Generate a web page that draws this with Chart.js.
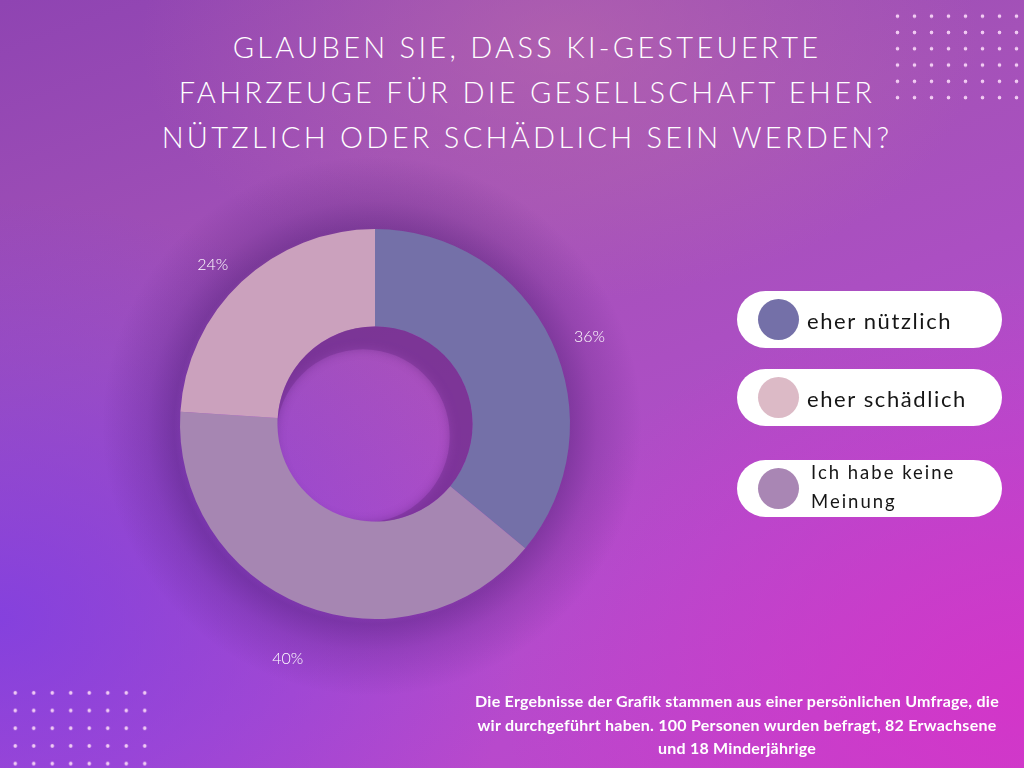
<!DOCTYPE html>
<html>
<head>
<meta charset="utf-8">
<script src="https://cdn.jsdelivr.net/npm/chart.js@4.4.0/dist/chart.umd.min.js"></script>
<style>
  html, body { margin: 0; padding: 0; }
  body {
    width: 1024px; height: 768px; overflow: hidden; position: relative;
    background:
      radial-gradient(ellipse 420px 260px at 560px 40px, rgba(190,110,170,0.55), rgba(190,110,170,0) 100%),
      radial-gradient(ellipse 520px 420px at 0px 620px, rgba(120,60,230,0.75), rgba(120,60,230,0) 100%),
      radial-gradient(ellipse 520px 420px at 1024px 700px, rgba(215,50,200,0.8), rgba(215,50,200,0) 100%),
      linear-gradient(160deg, #8f44b2 0%, #a452b8 35%, #b24ccc 70%, #c244cc 100%);
    font-family: "Lato", sans-serif;
  }
  .glow {
    position: absolute; left: 0; top: 0; width: 1024px; height: 768px;
    background: radial-gradient(circle 270px at 372px 426px, rgba(70,25,110,0) 0px, rgba(70,25,110,0) 150px, rgba(70,25,110,0.42) 198px, rgba(70,25,110,0.2) 225px, rgba(70,25,110,0) 270px);
  }
  .dots-tr {
    position: absolute; left: 889px; top: 8px; width: 136px; height: 98px;
    background-image: radial-gradient(circle, rgba(245,210,245,0.95) 1.4px, rgba(245,210,245,0) 2.2px);
    background-size: 17px 16.3px;
  }
  .dots-bl {
    position: absolute; left: 6px; top: 684px; width: 148px; height: 92px;
    background-image: radial-gradient(circle, rgba(245,210,245,0.95) 1.4px, rgba(245,210,245,0) 2.2px);
    background-size: 18.5px 17.7px;
  }
  #title {
    position: absolute; left: 60px; width: 934px; top: 24px; text-align: center;
    color: #fff; font-family: "Lato", sans-serif; font-weight: 300; font-size: 29px;
    line-height: 45px; letter-spacing: 3.3px; margin: 0;
  }
  #chartWrap { position: absolute; left: 0; top: 0; width: 1024px; height: 768px; }
  .pill {
    position: absolute; left: 737px; width: 265px; height: 57px; background: #fff;
    border-radius: 29px;
  }
  .pill .dot { position: absolute; left: 21px; top: 8px; width: 41px; height: 41px; border-radius: 50%; }
  .pill .txt { position: absolute; left: 70px; color: #161616; font-family: "Lato", sans-serif; font-weight: 400; white-space: nowrap; }
  #note {
    position: absolute; left: 437px; width: 600px; top: 689px; text-align: center;
    color: #fff; font-family: "Lato", sans-serif; font-weight: 700; font-size: 16px; line-height: 23.5px;
    letter-spacing: 0.25px;
  }
</style>
</head>
<body>
<div class="glow"></div>
<div class="dots-tr"></div>
<div class="dots-bl"></div>
<div id="title">GLAUBEN SIE, DASS KI-GESTEUERTE<br>FAHRZEUGE FÜR DIE GESELLSCHAFT EHER<br>NÜTZLICH ODER SCHÄDLICH SEIN WERDEN?</div>
<div id="chartWrap"><canvas id="c" width="1024" height="768"></canvas></div>
<div id="legend"></div>
<div id="note">Die Ergebnisse der Grafik stammen aus einer persönlichen Umfrage, die<br>wir durchgeführt haben. 100 Personen wurden befragt, 82 Erwachsene<br>und 18 Minderjährige</div>
<script>
// ---- data ----
const categories = ["eher nützlich", "Ich habe keine Meinung", "eher schädlich"];
const values = [36, 40, 24];
const valueLabels = ["36%", "40%", "24%"];
const sliceColors = ["#7470a8", "#a686b2", "#cba1bd"];
const legendNames = ["eher nützlich", "eher schädlich", "Ich habe keine<br>Meinung"];
const legendColors = ["#7470a8", "#dcbac6", "#a986b4"];

// ---- legend (HTML pills) ----
const legendTops = [291, 369, 460];
const legendEl = document.getElementById('legend');
legendNames.forEach((name, i) => {
  const p = document.createElement('div');
  p.className = 'pill';
  p.style.top = legendTops[i] + 'px';
  const d = document.createElement('div');
  d.className = 'dot';
  d.style.background = legendColors[i];
  const t = document.createElement('div');
  t.className = 'txt';
  t.innerHTML = name;
  if (i < 2) { t.style.top = '17px'; t.style.fontSize = '22px'; t.style.letterSpacing = '1.6px'; t.style.lineHeight = '26px'; }
  else { t.style.top = '-2px'; t.style.left = '74px'; t.style.fontSize = '18.5px'; t.style.lineHeight = '29px'; t.style.letterSpacing = '2px'; }
  p.appendChild(d); p.appendChild(t);
  legendEl.appendChild(p);
});

// ---- plugins ----
const innerShadow = {
  id: 'innerShadow',
  afterDatasetsDraw(chart) {
    const meta = chart.getDatasetMeta(0);
    const arc = meta.data[0];
    const cx = arc.x, cy = arc.y, r = arc.innerRadius;
    const ctx = chart.ctx;
    ctx.save();
    ctx.beginPath();
    ctx.arc(cx, cy, r, 0, Math.PI * 2);
    ctx.clip();
    ctx.beginPath();
    ctx.rect(cx - 400, cy - 400, 800, 800);
    ctx.arc(cx - 12, cy + 12, r * 0.89, 0, Math.PI * 2, true);
    ctx.shadowColor = 'rgba(70,25,100,0.75)';
    ctx.shadowBlur = 10;
    ctx.fillStyle = 'rgba(110,45,140,0.45)';
    ctx.fill('evenodd');
    ctx.restore();
  }
};
const outsideLabels = {
  id: 'outsideLabels',
  afterDraw(chart) {
    const meta = chart.getDatasetMeta(0);
    const ctx = chart.ctx;
    ctx.save();
    ctx.fillStyle = '#ffffff';
    ctx.font = '300 16px Lato';
    ctx.textAlign = 'center';
    ctx.textBaseline = 'middle';
    meta.data.forEach((a, i) => {
      const mid = (a.startAngle + a.endAngle) / 2;
      const rr = a.outerRadius + 42;
      ctx.fillText(valueLabels[i], a.x + Math.cos(mid) * rr, a.y + Math.sin(mid) * rr + 14);
    });
    ctx.restore();
  }
};

new Chart(document.getElementById('c'), {
  type: 'doughnut',
  data: {
    labels: categories,
    datasets: [{ data: values, backgroundColor: sliceColors, borderWidth: 0, hoverOffset: 0 }]
  },
  options: {
    responsive: false,
    animation: false,
    cutout: '50%',
    layout: { padding: { left: 180, right: 454, top: 229, bottom: 149 } },
    plugins: { legend: { display: false }, tooltip: { enabled: false } }
  },
  plugins: [innerShadow, outsideLabels]
});
</script>
</body>
</html>
